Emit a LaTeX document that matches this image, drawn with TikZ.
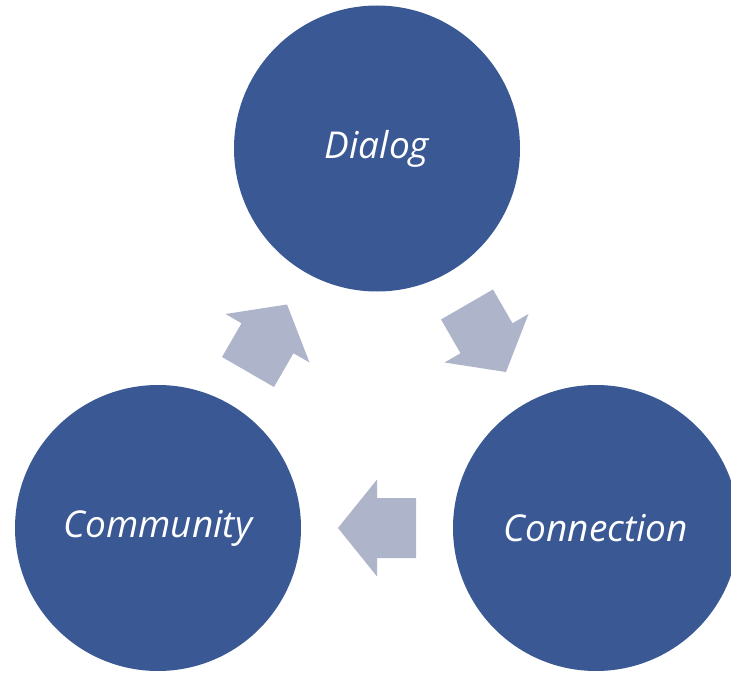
\documentclass[tikz,border=0pt]{standalone}
\usepackage{fontspec}
\setmainfont{Open Sans}
\usetikzlibrary{calc}
\definecolor{circblue}{RGB}{58,88,148}
\definecolor{arrowgray}{RGB}{174,181,203}
\begin{document}
\begin{tikzpicture}[x=1pt,y=-1pt,
  circ/.style={circle, fill=circblue, minimum size=286pt, inner sep=0pt, text=white,
    font=\itshape\fontsize{37}{44}\selectfont},
  blockarrow/.style={fill=arrowgray}]
\useasboundingbox (0,0) rectangle (731,674);
\clip (0,0) rectangle (731,674);
\node[circ] (dialog) at (377,148.5) {Dialog};
\node[circ] (community) at (158,528) {Community};
\node[circ] (connection) at (596,528) {Connection};
\coordinate (m1) at ($(community)!0.5!(dialog)$);
\coordinate (m2) at ($(dialog)!0.5!(connection)$);
\coordinate (m3) at ($(connection)!0.5!(community)$);
\begin{scope}[shift={(m1)}, rotate=60]
  \fill[blockarrow] (-39,-30) -- (0,-30) -- (0,-48.5) -- (39,0) -- (0,48.5) -- (0,30) -- (-39,30) -- cycle;
\end{scope}
\begin{scope}[shift={(m2)}, rotate=-60]
  \fill[blockarrow] (-39,-30) -- (0,-30) -- (0,-48.5) -- (39,0) -- (0,48.5) -- (0,30) -- (-39,30) -- cycle;
\end{scope}
\begin{scope}[shift={(m3)}, rotate=180]
  \fill[blockarrow] (-39,-30) -- (0,-30) -- (0,-48.5) -- (39,0) -- (0,48.5) -- (0,30) -- (-39,30) -- cycle;
\end{scope}
\end{tikzpicture}
\end{document}
